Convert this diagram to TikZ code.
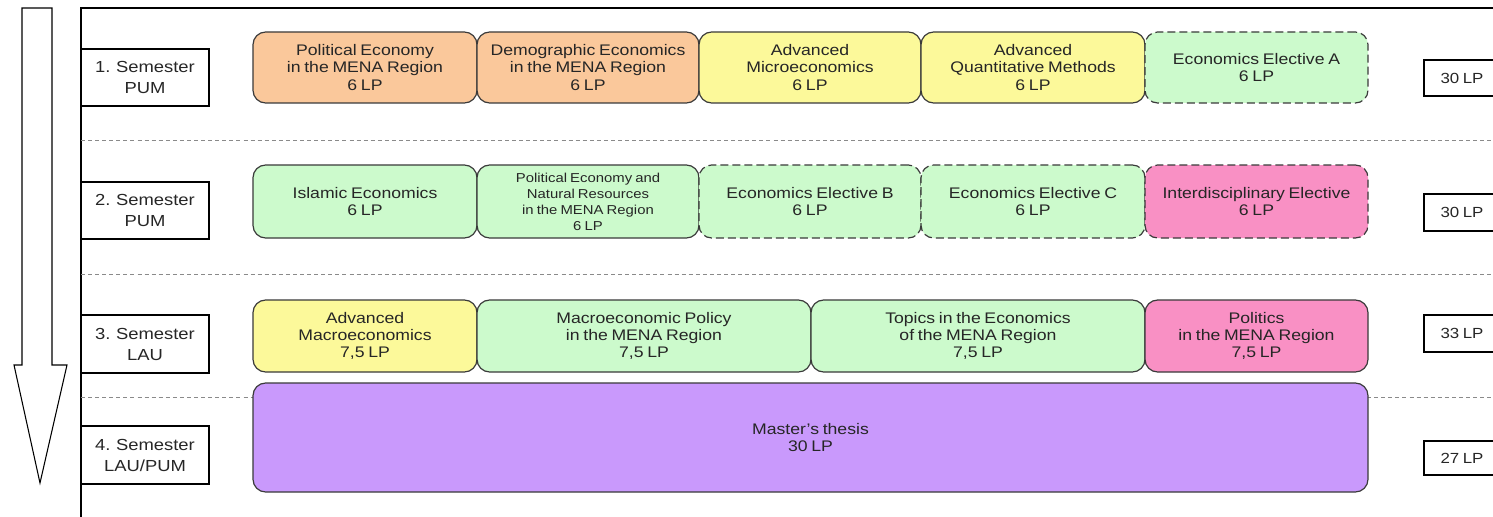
\documentclass[tikz,border=0pt]{standalone}
\usepackage{fontspec}
\setmainfont[FakeStretch=1.15, WordSpace=0.75]{Liberation Sans}
\definecolor{txt}{HTML}{262626}
\definecolor{edge}{HTML}{3A3A3A}
\definecolor{orangeC}{HTML}{FAC89B}
\definecolor{yellowC}{HTML}{FCF99A}
\definecolor{greenC}{HTML}{CCFACC}
\definecolor{pinkC}{HTML}{F990C4}
\definecolor{purpleC}{HTML}{C999FC}
\definecolor{sep}{HTML}{8A8A8A}
% box placed by its corners (pixel units): name, x1, y1, x2, y2, style, text
\newcommand\coursebox[7]{%
  \node[#6, minimum width={(#4-#2)*0.75pt}, minimum height={(#5-#3)*0.75pt}]
    (#1) at ({(#2+#4)/2},{(#3+#5)/2}) {#7};}
\begin{document}
\begin{tikzpicture}[x=0.75pt,y=-0.75pt,
  every node/.style={inner sep=0pt, outer sep=0pt, align=center, text=txt},
  course/.style={draw=edge, line width=0.9pt, rounded corners=9.5pt,
    font=\fontsize{11.5}{13}\selectfont},
  elective/.style={course, dash pattern=on 6pt off 3pt},
  smalltext/.style={font=\fontsize{9.7}{12}\selectfont},
  semester/.style={draw=black, line width=0.8pt, fill=white,
    font=\fontsize{12}{15.75}\selectfont},
  credits/.style={draw=black, line width=0.8pt, fill=white,
    font=\fontsize{11}{13}\selectfont},
  sepline/.style={draw=sep, line width=0.7pt, dash pattern=on 3pt off 2.3pt},
  frame/.style={draw=black, line width=1pt}]
\useasboundingbox (0,0) rectangle (1493,517);
\clip (0,0) rectangle (1493,517);
\fill[white] (0,0) rectangle (1493,517);

% progress arrow on the left
\draw[frame, line width=0.8pt, fill=white, line join=miter]
  (22,8) -- (52,8) -- (52,365) -- (67,365) -- (40,483) -- (14,365) -- (22,365) -- cycle;

% frame of the plan
\draw[frame] (81,517) -- (81,8) -- (1500,8);

% row separators
\draw[sepline] (81,140) -- (1500,140);
\draw[sepline] (81,274) -- (1500,274);
\draw[sepline] (81,397) -- (1500,397);

% semester labels
\coursebox{s1}{81}{49}{209}{106}{semester}{1. Semester\\PUM}
\coursebox{s2}{81}{182}{209}{239}{semester}{2. Semester\\PUM}
\coursebox{s3}{81}{315}{209}{373}{semester}{3. Semester\\LAU}
\coursebox{s4}{81}{426}{209}{484}{semester}{4. Semester\\LAU/PUM}

% first semester
\coursebox{a1}{253}{32}{477}{103}{course, fill=orangeC}{Political Economy\\in the MENA Region\\6 LP}
\coursebox{a2}{477}{32}{699}{103}{course, fill=orangeC}{Demographic Economics\\in the MENA Region\\6 LP}
\coursebox{a3}{699}{32}{921}{103}{course, fill=yellowC}{Advanced\\Microeconomics\\6 LP}
\coursebox{a4}{921}{32}{1145}{103}{course, fill=yellowC}{Advanced\\Quantitative Methods\\6 LP}
\coursebox{a5}{1145}{32}{1368}{103}{elective, fill=greenC}{Economics Elective A\\6 LP}

% second semester
\coursebox{b1}{253}{165}{477}{238}{course, fill=greenC}{Islamic Economics\\6 LP}
\coursebox{b2}{477}{165}{699}{238}{course, fill=greenC, smalltext}{Political Economy and\\Natural Resources\\in the MENA Region\\6 LP}
\coursebox{b3}{699}{165}{921}{238}{elective, fill=greenC}{Economics Elective B\\6 LP}
\coursebox{b4}{921}{165}{1145}{238}{elective, fill=greenC}{Economics Elective C\\6 LP}
\coursebox{b5}{1145}{165}{1368}{238}{elective, fill=pinkC}{Interdisciplinary Elective\\6 LP}

% third semester
\coursebox{c1}{253}{300}{477}{372}{course, fill=yellowC}{Advanced\\Macroeconomics\\7,5 LP}
\coursebox{c2}{477}{300}{811}{372}{course, fill=greenC}{Macroeconomic Policy\\in the MENA Region\\7,5 LP}
\coursebox{c3}{811}{300}{1145}{372}{course, fill=greenC}{Topics in the Economics\\of the MENA Region\\7,5 LP}
\coursebox{c4}{1145}{300}{1368}{372}{course, fill=pinkC}{Politics\\in the MENA Region\\7,5 LP}

% fourth semester
\coursebox{d1}{253}{383}{1368}{492}{course, fill=purpleC}{Master's thesis\\30 LP}

% credit totals
\coursebox{t1}{1424}{60}{1500}{96}{credits}{30 LP}
\coursebox{t2}{1424}{194}{1500}{231}{credits}{30 LP}
\coursebox{t3}{1424}{315}{1500}{352}{credits}{33 LP}
\coursebox{t4}{1424}{441}{1500}{475}{credits}{27 LP}
\end{tikzpicture}
\end{document}
